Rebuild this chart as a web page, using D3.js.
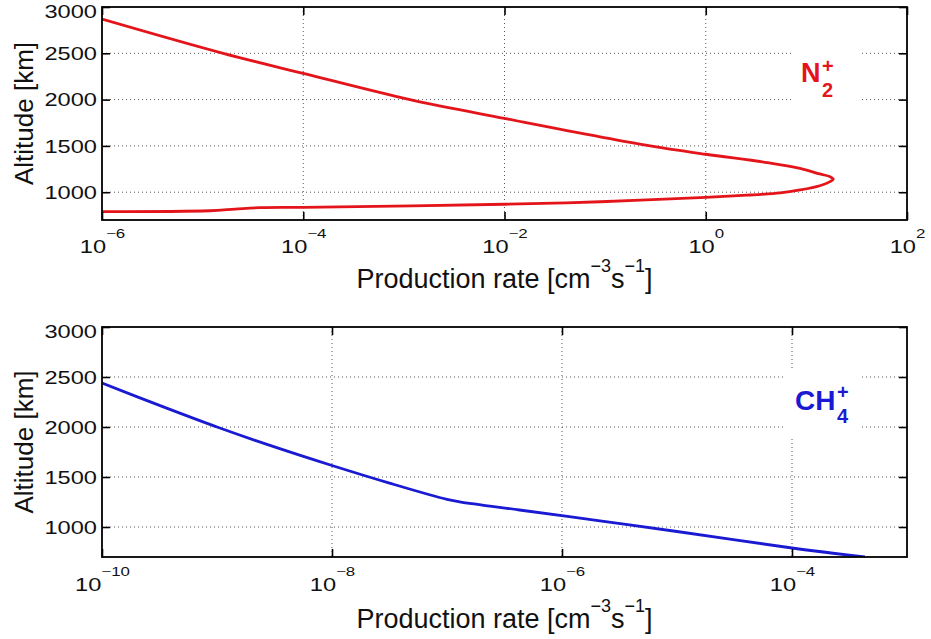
<!DOCTYPE html>
<html>
<head>
<meta charset="utf-8">
<script src="https://cdn.jsdelivr.net/npm/d3@7"></script>
<style>
  body { margin: 0; background: #fff; }
  svg { display: block; font-family: "Liberation Sans", Arial, Helvetica, sans-serif; }
</style>
</head>
<body>
<svg id="chart" width="931" height="639"></svg>
<script>
// N2+ production rate profile [cm^-3 s^-1] vs altitude [km], listed bottom-up
const n2Rate = [1.0e-6, 1.17e-5, 2.1e-5, 3.7e-5, 1.0e-4, 1.0e-2, 0.09, 1.0, 2.75,
                5.5, 8.65, 13.6, 17.2, 18.5, 17.2, 13.6, 8.65, 4.1, 1.0, 0.28,
                0.01, 1.15e-3, 1.0e-4, 1.6e-5, 1.0e-6];
const n2Alt  = [790, 800, 817, 833, 837, 870, 897, 945, 970,
                992, 1024, 1070, 1114, 1141, 1168, 1197, 1258, 1319, 1410, 1500,
                1797, 2000, 2283, 2500, 2870];

// CH4+ production rate profile [cm^-3 s^-1] vs altitude [km], listed bottom-up
const ch4Rate = [4.3e-4, 1.0e-4, 1.0e-5, 2.14e-6, 4.27e-7, 1.29e-7, 1.0e-7, 3.16e-8,
                 1.0e-8, 3.16e-9, 1.0e-9, 3.16e-10, 1.0e-10];
const ch4Alt  = [700, 790, 955, 1062, 1170, 1252, 1276, 1439,
                 1615, 1801, 2000, 2216, 2440];

const altTicks = [1000, 1500, 2000, 2500, 3000];
const n2RateTicks = [1e-6, 1e-4, 1e-2, 1e0, 1e2];
const ch4RateTicks = [1e-10, 1e-8, 1e-6, 1e-4];

const svg = d3.select("#chart");
const L = 102, R = 907;

function drawPanel(cfg) {
  const x = d3.scaleLog().domain(cfg.xDomain).range([L, R]);
  const y = d3.scaleLinear().domain([700, 3000]).range([cfg.bottom, cfg.top]);
  const g = svg.append("g");

  // dotted grid
  const grid = g.append("g").attr("stroke", "#555").attr("stroke-width", 1)
    .attr("stroke-dasharray", "1,3");
  grid.selectAll("line.h").data(altTicks.filter(v => v < 3000)).join("line")
    .attr("class", "h")
    .attr("x1", L).attr("x2", R)
    .attr("y1", d => y(d)).attr("y2", d => y(d));
  grid.selectAll("line.v").data(cfg.xTicks.filter(v => v > cfg.xDomain[0] && v < cfg.xDomain[1])).join("line")
    .attr("class", "v")
    .attr("y1", cfg.top).attr("y2", cfg.bottom)
    .attr("x1", d => x(d)).attr("x2", d => x(d));

  // profile curve
  const clipId = "clip" + cfg.id;
  g.append("clipPath").attr("id", clipId).append("rect")
    .attr("x", L).attr("y", cfg.top).attr("width", R - L).attr("height", cfg.bottom - cfg.top);
  const pts = cfg.rate.map((r, i) => ({ rate: r, alt: cfg.alt[i] }));
  const line = d3.line().x(d => x(d.rate)).y(d => y(d.alt)).curve(d3.curveCatmullRom.alpha(0.5));
  g.append("path").datum(pts)
    .attr("clip-path", `url(#${clipId})`)
    .attr("d", line)
    .attr("fill", "none").attr("stroke", cfg.color).attr("stroke-width", 2.8)
    .attr("stroke-linejoin", "round");

  // species label on a white box
  g.append("rect").attr("x", cfg.box[0]).attr("y", cfg.box[1])
    .attr("width", cfg.box[2]).attr("height", cfg.box[3]).attr("fill", "#fff");
  const lab = g.append("text").attr("fill", cfg.color).attr("font-weight", "bold")
    .attr("x", cfg.lab.x).attr("y", cfg.lab.y).attr("font-size", cfg.lab.size);
  lab.append("tspan").text(cfg.lab.main);
  lab.append("tspan").attr("x", cfg.lab.sx).attr("y", cfg.lab.supY)
    .attr("font-size", cfg.lab.small).text("+");
  lab.append("tspan").attr("x", cfg.lab.sx).attr("y", cfg.lab.subY)
    .attr("font-size", cfg.lab.small).text(cfg.lab.sub);

  // axes: ticks pointing inward on all four sides
  const axStyle = sel => {
    sel.select(".domain").remove();
    sel.selectAll(".tick line").attr("stroke", "#000").attr("stroke-width", 1.6);
  };
  const xb = g.append("g").attr("transform", `translate(0,${cfg.bottom})`)
    .call(d3.axisBottom(x).tickValues(cfg.xTicks).tickSize(-8).tickPadding(0))
    .call(axStyle);
  xb.selectAll(".tick text").each(function (d) {
    const t = d3.select(this);
    t.text(null).attr("y", cfg.xLabY).attr("dy", null)
      .attr("fill", "#111").attr("font-size", 17.5)
      .attr("font-family", '"Liberation Sans", Arial, sans-serif')
      .attr("transform", "scale(1.35,1)");
    t.append("tspan").text("10");
    t.append("tspan").attr("dy", -15).attr("font-size", 12.5)
      .text(String(Math.round(Math.log10(d))).replace("-", "\u2212"));
  });
  g.append("g").attr("transform", `translate(0,${cfg.top})`)
    .call(d3.axisTop(x).tickValues(cfg.xTicks).tickSize(-8).tickFormat(""))
    .call(axStyle);
  const yl = g.append("g").attr("transform", `translate(${L},0)`)
    .call(d3.axisLeft(y).tickValues(altTicks).tickSize(-8).tickPadding(5).tickFormat(d3.format("d")))
    .call(axStyle);
  yl.selectAll(".tick text")
    .attr("x", 0).attr("fill", "#111").attr("font-size", 17.5)
    .attr("font-family", '"Liberation Sans", Arial, sans-serif')
    .attr("dy", d => d === 3000 ? "0.62em" : "0.35em")
    .attr("transform", "translate(-5,0) scale(1.35,1)");
  g.append("g").attr("transform", `translate(${R},0)`)
    .call(d3.axisRight(y).tickValues(altTicks).tickSize(-8).tickFormat(""))
    .call(axStyle);

  // frame
  g.append("rect").attr("x", L).attr("y", cfg.top)
    .attr("width", R - L).attr("height", cfg.bottom - cfg.top)
    .attr("fill", "none").attr("stroke", "#000").attr("stroke-width", 1.8);

  // axis titles
  const xt = g.append("text").attr("x", (L + R) / 2).attr("y", cfg.xTitleY)
    .attr("text-anchor", "middle").attr("font-size", 27).attr("fill", "#111");
  xt.append("tspan").text("Production rate [cm");
  xt.append("tspan").attr("dy", -16).attr("font-size", 18).text("\u22123");
  xt.append("tspan").attr("dy", 16).text("s");
  xt.append("tspan").attr("dy", -16).attr("font-size", 18).text("\u22121");
  xt.append("tspan").attr("dy", 16).text("]");

  g.append("text")
    .attr("transform", `translate(33,${(cfg.top + cfg.bottom) / 2}) rotate(-90)`)
    .attr("text-anchor", "middle").attr("font-size", 26).attr("fill", "#111")
    .text("Altitude [km]");
}

drawPanel({
  id: "n2", top: 7, bottom: 220, xDomain: [1e-6, 1e2], xTicks: n2RateTicks,
  rate: n2Rate, alt: n2Alt, color: "#e3151b",
  box: [792, 43, 68, 68],
  lab: { main: "N", sub: "2", x: 801, y: 82, size: 27, small: 20, sx: 822, supY: 73, subY: 97 },
  xLabY: 33.5, xTitleY: 288
});

drawPanel({
  id: "ch4", top: 327, bottom: 557, xDomain: [1e-10, 1e-3], xTicks: ch4RateTicks,
  rate: ch4Rate, alt: ch4Alt, color: "#1a1ad2",
  box: [785, 368, 75, 69],
  lab: { main: "CH", sub: "4", x: 795, y: 410, size: 28, small: 20, sx: 837, supY: 399, subY: 423 },
  xLabY: 34.5, xTitleY: 628
});
</script>
</body>
</html>
